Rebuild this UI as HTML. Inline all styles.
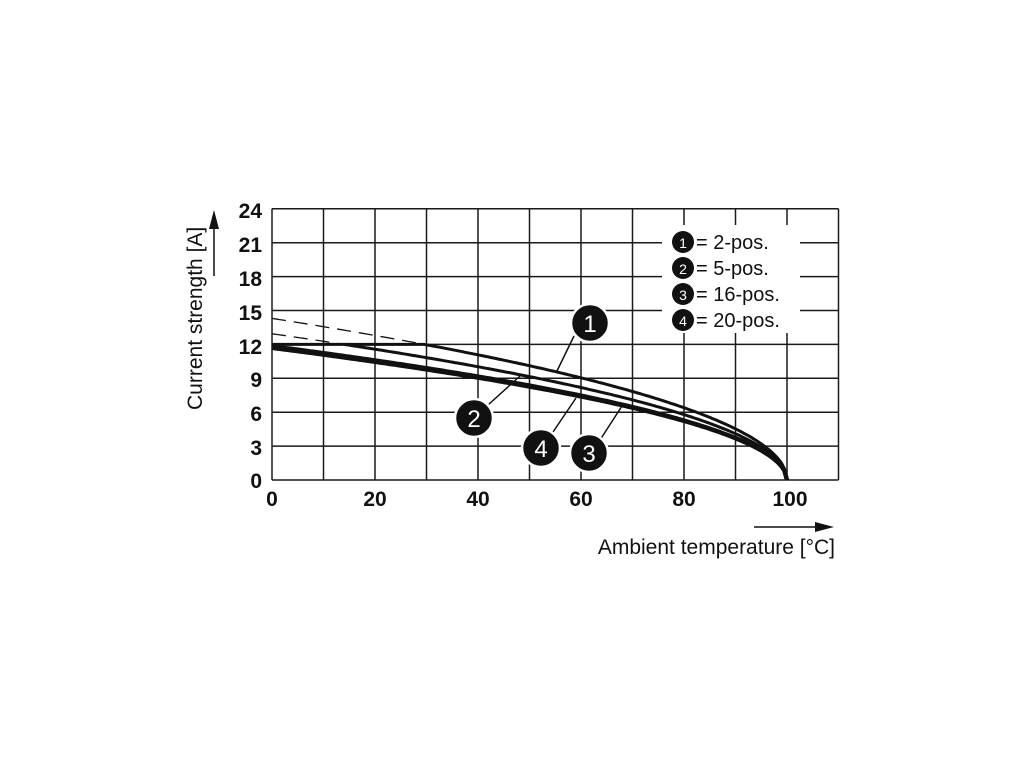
<!DOCTYPE html>
<html><head><meta charset="utf-8"><style>
html,body{margin:0;padding:0;background:#fff;}
svg{display:block;font-family:"Liberation Sans",Arial,sans-serif;}
</style></head><body>
<svg id="s" width="1020" height="765" viewBox="0 0 1020 765" xmlns="http://www.w3.org/2000/svg">
<rect width="1020" height="765" fill="#fff"/>
<g id="grid" stroke="#1a1a1a" stroke-width="1.5" fill="none"></g>
<g id="curves" fill="none" stroke="#111"></g>
<rect x="662" y="225" width="138" height="108" fill="#fff"/>
<g font-size="20" fill="#111">
<circle cx="683" cy="242" r="11" fill="#111"/><text x="683" y="248" font-size="14" fill="#fff" text-anchor="middle">1</text><text x="696" y="249">= 2-pos.</text>
<circle cx="683" cy="268" r="11" fill="#111"/><text x="683" y="274" font-size="14" fill="#fff" text-anchor="middle">2</text><text x="696" y="275">= 5-pos.</text>
<circle cx="683" cy="294" r="11" fill="#111"/><text x="683" y="300" font-size="14" fill="#fff" text-anchor="middle">3</text><text x="696" y="301">= 16-pos.</text>
<circle cx="683" cy="320" r="11" fill="#111"/><text x="683" y="326" font-size="14" fill="#fff" text-anchor="middle">4</text><text x="696" y="327">= 20-pos.</text>
</g>
<g stroke="#111" stroke-width="1.5">
<line x1="574" y1="336" x2="556" y2="373"/>
<line x1="488" y1="405" x2="520" y2="376"/>
<line x1="553" y1="432" x2="576" y2="398"/>
<line x1="600" y1="440" x2="622" y2="406"/>
</g>
<g fill="#111" stroke="#fff" stroke-width="2.5">
<circle cx="590" cy="323" r="19"/>
<circle cx="474" cy="418" r="19"/>
<circle cx="541" cy="448" r="19"/>
<circle cx="589" cy="453" r="19"/>
</g>
<g fill="#fff" font-size="24" text-anchor="middle">
<text x="590" y="332">1</text><text x="474" y="427">2</text><text x="541" y="457">4</text><text x="589" y="462">3</text>
</g>
<g font-size="21" font-weight="bold" fill="#111" text-anchor="end">
<text x="262" y="218">24</text><text x="262" y="252">21</text><text x="262" y="286">18</text><text x="262" y="320">15</text><text x="262" y="354">12</text><text x="262" y="387">9</text><text x="262" y="421">6</text><text x="262" y="455">3</text><text x="262" y="488">0</text>
</g>
<g font-size="21" font-weight="bold" fill="#111" text-anchor="middle">
<text x="272" y="506">0</text><text x="375" y="506">20</text><text x="478" y="506">40</text><text x="581" y="506">60</text><text x="684" y="506">80</text><text x="790" y="506">100</text>
</g>
<text x="835" y="554" font-size="21" fill="#111" text-anchor="end">Ambient temperature [°C]</text>
<line x1="754" y1="527" x2="818" y2="527" stroke="#111" stroke-width="1.5"/>
<polygon points="834,527 815,522 815,532" fill="#111"/>
<text transform="translate(202,410) rotate(-90)" font-size="21" fill="#111">Current strength [A]</text>
<line x1="214" y1="276" x2="214" y2="226" stroke="#111" stroke-width="1.5"/>
<polygon points="214,210 209,229 219,229" fill="#111"/>
<script>
var X=function(t){return 272+t*5.15},Y=function(v){return 480-v*11.3};
var g=document.getElementById('grid'),ns='http://www.w3.org/2000/svg';
function el(p,tag,a){var e=document.createElementNS(ns,tag);for(var k in a)e.setAttribute(k,a[k]);p.appendChild(e);return e;}
for(var i=0;i<=11;i++)el(g,'line',{x1:X(i*10),y1:Y(24),x2:X(i*10),y2:Y(0)});
for(var j=0;j<=8;j++)el(g,'line',{x1:X(0),y1:Y(j*3),x2:X(110),y2:Y(j*3)});
var c=document.getElementById('curves');
function curve(a,t0,t1,cap){var d='';for(var t=t0;t<=t1+1e-9;t+=0.5){var v=a*Math.sqrt(Math.max(0,100-t));if(cap!=null)v=Math.min(v,cap);d+=(d?'L':'M')+X(t).toFixed(1)+','+Y(v).toFixed(1);}return d;}
el(c,'path',{d:curve(1.43,0,30),'stroke-width':1.3,'stroke-dasharray':'14,8'});
el(c,'path',{d:curve(1.294,0,14),'stroke-width':1.3,'stroke-dasharray':'14,8'});
el(c,'path',{d:curve(1.43,0,100,12),'stroke-width':3});
el(c,'path',{d:curve(1.294,14,100),'stroke-width':3});
el(c,'path',{d:curve(1.17,0,100),'stroke-width':4.5});
el(c,'path',{d:curve(1.19,0,100),'stroke-width':3});
</script>
</svg>
</body></html>
